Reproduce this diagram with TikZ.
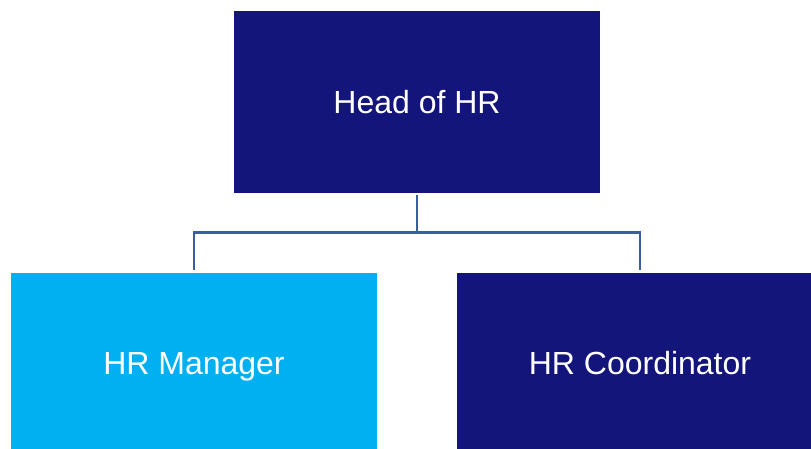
\documentclass[tikz,border=0pt]{standalone}
\usepackage{fontspec}
\setmainfont{Liberation Sans}
\usepackage{tikz}
\usetikzlibrary{positioning,calc}
\definecolor{hrnavy}{HTML}{13157A}
\definecolor{hrsky}{HTML}{00B0F0}
\definecolor{hrline}{HTML}{3A5DA3}
\begin{document}
\begin{tikzpicture}[x=1pt,y=1pt,
  rolebox/.style={rectangle,draw=none,outer sep=0pt,minimum width=366pt,minimum height=181.5pt,
    text=white,text height=23pt,text depth=0pt,font=\fontsize{32}{38}\selectfont},
  link/.style={draw=hrline,line width=2.5pt,shorten <=2.5pt,shorten >=2.5pt}]
\path[use as bounding box,clip] (0,0) rectangle (811,-448);
\node[rolebox,fill=hrnavy] (head) at (417,-101.75) {Head of HR};
\node[rolebox,fill=hrsky,below left=80pt and 40pt of head.south] (mgr) {HR Manager};
\node[rolebox,fill=hrnavy,below right=80pt and 40pt of head.south] (coord) {HR Coordinator};
\coordinate (split) at ($(head.south)!0.5!(head.south |- mgr.north)$);
\draw[link] (head.south) -- (split) -| (mgr.north);
\draw[link,shorten <=0pt] (split) -| (coord.north);
\end{tikzpicture}
\end{document}
